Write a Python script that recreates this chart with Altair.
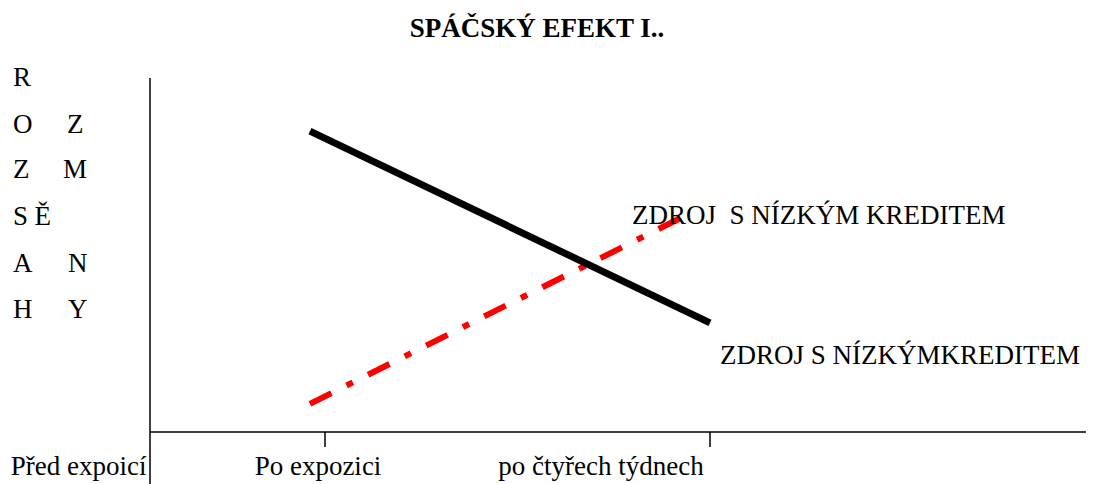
import altair as alt
import pandas as pd

FONT = "Liberation Serif"

# x units: 1 = "Po expozici" tick, 3.2 = "po čtyřech týdnech" tick; y units 0..100
black_x = [0.914, 3.2]
black_y = [85.5, 31.0]
red_x = [0.914, 3.06]
red_y = [8.0, 61.5]

tick_values = [1.0, 3.2]

bottom_labels = ["Před expoicí", "Po expozici", "po čtyřech týdnech"]
bottom_x = [-0.02, 0.96, 2.577]
bottom_align = ["right", "center", "center"]
bottom_y = [-10.0, -10.0, -10.0]

ylab_text = ["R", "O", "Z", "S", "A", "H", "Z", "M", "Ě", "N", "Y"]
ylab_x = [-0.783, -0.783, -0.783, -0.783, -0.783, -0.783, -0.474, -0.497, -0.66, -0.469, -0.469]
ylab_y = [100.6, 87.2, 74.4, 61.1, 47.7, 34.7, 87.2, 74.4, 61.1, 47.7, 34.7]

ann_text = ["ZDROJ\u00a0\u00a0S NÍZKÝM KREDITEM", "ZDROJ S NÍZKÝMKREDITEM"]
ann_x = [2.754, 3.257]
ann_y = [61.3, 21.6]

title_text = ["SPÁČSKÝ EFEKT I.."]
title_x = [2.211]
title_y = [114.5]

W, H = 936, 352
xs = alt.Scale(domain=[0, W / 175], nice=False, zero=False)
ys = alt.Scale(domain=[0, 100], nice=False, zero=False)

black_df = pd.DataFrame({"x": black_x, "y": black_y})
red_df = pd.DataFrame({"x": red_x, "y": red_y})
bottom_df = pd.DataFrame({"t": bottom_labels, "x": bottom_x, "y": bottom_y, "a": bottom_align})
ylab_df = pd.DataFrame({"t": ylab_text, "x": ylab_x, "y": ylab_y})
ann_df = pd.DataFrame({"t": ann_text, "x": ann_x, "y": ann_y})
title_df = pd.DataFrame({"t": title_text, "x": title_x, "y": title_y})
tick_df = pd.DataFrame({"x": tick_values})

hidden_x = alt.X("x:Q", scale=xs, axis=None)
hidden_y = alt.Y("y:Q", scale=ys, axis=None)

hline = alt.Chart(tick_df.head(1)).mark_rule(color="black", strokeWidth=1.5).encode(
    x=alt.value(0), x2=alt.value(W), y=alt.value(H))
ticks = alt.Chart(tick_df).mark_rule(color="black", strokeWidth=1.5).encode(
    x=hidden_x, y=alt.value(H), y2=alt.value(H + 15))
vline = alt.Chart(tick_df.head(1)).mark_rule(color="black", strokeWidth=1.5).encode(
    x=alt.value(0), y=alt.value(-2), y2=alt.value(H + 52))

black_line = alt.Chart(black_df).mark_line(color="black", strokeWidth=7, strokeCap="butt").encode(
    x=hidden_x, y=hidden_y)
red_line = alt.Chart(red_df).mark_line(color="#ff0000", strokeWidth=6, strokeCap="butt",
                                       strokeDash=[24, 17, 7, 17]).encode(x=hidden_x, y=hidden_y)

bl_left = alt.Chart(bottom_df[bottom_df.a == "right"]).mark_text(
    font=FONT, fontSize=27, align="right", baseline="middle", color="black").encode(
    x=hidden_x, y=hidden_y, text="t:N")
bl_center = alt.Chart(bottom_df[bottom_df.a == "center"]).mark_text(
    font=FONT, fontSize=27, align="center", baseline="middle", color="black").encode(
    x=hidden_x, y=hidden_y, text="t:N")

ylab = alt.Chart(ylab_df).mark_text(
    font=FONT, fontSize=27, align="left", baseline="middle", color="black").encode(
    x=hidden_x, y=hidden_y, text="t:N")

ann = alt.Chart(ann_df).mark_text(
    font=FONT, fontSize=27, align="left", baseline="middle", color="black").encode(
    x=hidden_x, y=hidden_y, text="t:N")

title = alt.Chart(title_df).mark_text(
    font=FONT, fontSize=27, fontWeight="bold", align="center", baseline="middle", color="black").encode(
    x=hidden_x, y=hidden_y, text="t:N")

chart = alt.layer(hline, ticks, vline, red_line, black_line, bl_left, bl_center, ylab, ann, title).properties(
    width=W, height=H,
    autosize=alt.AutoSizeParams(type="none"),
    padding={"left": 142, "top": 72, "right": 0, "bottom": 52},
    background="white",
).configure_view(stroke=None)

chart.save("out.html", embed_options={"renderer": "svg", "actions": False})
